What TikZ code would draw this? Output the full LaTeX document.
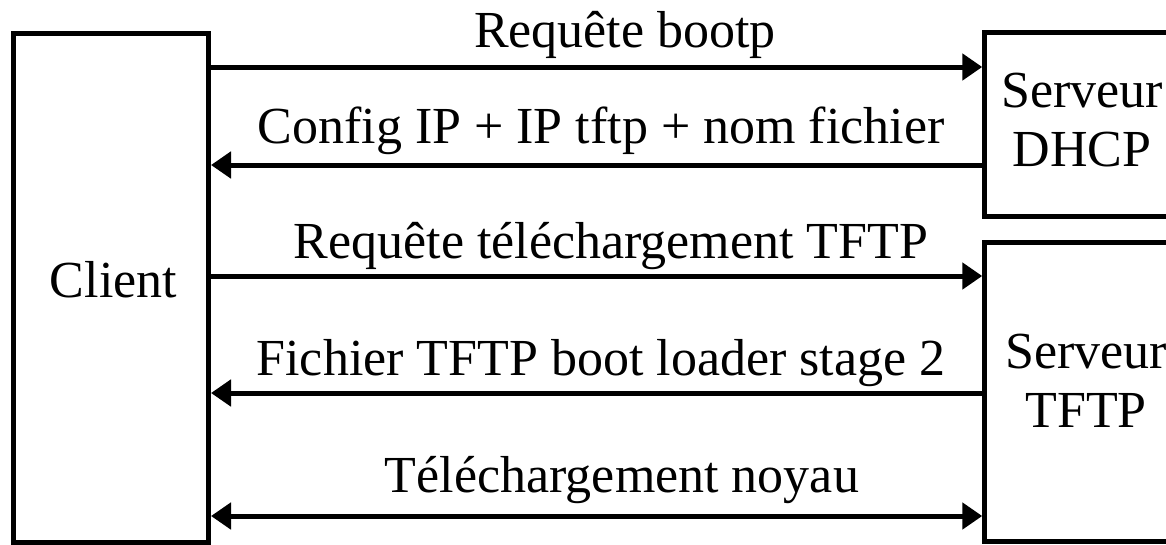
\documentclass[tikz,border=0pt]{standalone}
\usepackage{fontspec}
\setmainfont{Liberation Serif}
\usetikzlibrary{arrows.meta}
\begin{document}
\begin{tikzpicture}[x=1pt,y=-1pt,
  box/.style={draw,line width=5pt,inner sep=0pt,minimum width=195pt},
  msg/.style={line width=5pt,-{Triangle[length=20pt,width=26pt]}},
  both/.style={line width=5pt,{Triangle[length=20pt,width=26pt]}-{Triangle[length=20pt,width=26pt]}},
  lbl/.style={font=\fontsize{52}{59}\selectfont,inner sep=0pt,align=center}]
\useasboundingbox (0,0) rectangle (1166,544);
\clip (0,0) rectangle (1166,544);
\node[box,minimum height=508.5pt] (client) at (111,287.75) {};
\node[box,minimum height=183.5pt] (dhcp) at (1082.25,124.25) {};
\node[box,minimum height=299pt] (tftp) at (1082.25,391.5) {};
\node[lbl,anchor=base] (clienttxt) at (113.5,297) {Client};
\node[lbl] (dhcptxt) at (1082,120.5) {Serveur\\DHCP};
\node[lbl] (tftptxt) at (1086,380.5) {Serveur\\TFTP};
\draw[msg] (client.east |- 0,67) -- (dhcp.west |- 0,67);
\draw[msg] (dhcp.west |- 0,165) -- (client.east |- 0,165);
\draw[msg] (client.east |- 0,276) -- (tftp.west |- 0,276);
\draw[msg] (tftp.west |- 0,393) -- (client.east |- 0,393);
\draw[both] (client.east |- 0,516) -- (tftp.west |- 0,516);
\node[lbl,anchor=base] (m1) at (625,47) {Requête bootp};
\node[lbl,anchor=base] (m2) at (601,143) {Config IP + IP tftp + nom fichier};
\node[lbl,anchor=base] (m3) at (611,258) {Requête téléchargement TFTP};
\node[lbl,anchor=base] (m4) at (601,375) {Fichier TFTP boot loader stage 2};
\node[lbl,anchor=base] (m5) at (622,492) {Téléchargement noyau};
\end{tikzpicture}
\end{document}
